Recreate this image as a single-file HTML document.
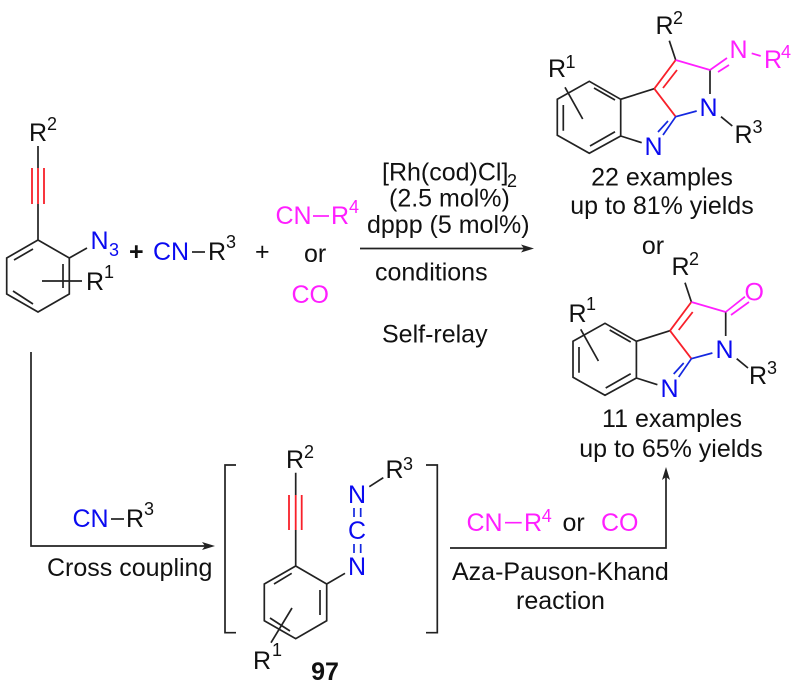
<!DOCTYPE html>
<html><head><meta charset="utf-8">
<style>
html,body{margin:0;padding:0;background:#fff}
svg{display:block}
text{font-family:"Liberation Sans",Arial,sans-serif;font-size:25px;fill:#111}
.s{font-size:18px}
.b{fill:#0a0af0}.m{fill:#ff1fff}
.c{text-anchor:middle}
.k{stroke:#222;stroke-width:1.7;fill:none}
.rd{stroke:#f8202a;stroke-width:1.8;fill:none}
.bl{stroke:#1428e0;stroke-width:1.7;fill:none}
.mg{stroke:#ff1fff;stroke-width:1.7;fill:none}
</style></head><body>
<svg width="800" height="695" viewBox="0 0 800 695" xmlns="http://www.w3.org/2000/svg">
<defs>
<g id="core">
<path class="k" d="M620.7 99.3L589.3 81.3L557.3 99.3V135.3L589.3 153.3L620.7 136V99.3L654.3 88.7M594 88L615 100M563.3 105V130.7M590 146L615 131.7M620.7 136L641.7 142.7M565 87.3L582.7 119M710 70V94M675.7 60L669.3 40.7M721 116.7L732.3 126"/>
<path class="rd" d="M654.3 88.7L675.7 60M663 88L677 70M654.3 88.7L675.7 116.7"/>
<path class="bl" d="M675.7 116.7L696.7 111M675.7 116.7L663 135M668 121L658 132"/>
<path class="mg" d="M675.7 60L710 70"/>
</g>
</defs>

<!-- left starting material -->
<path class="k" d="M38 146V168M38 204V240L69.3 258V294L38 312L6.7 294V258L38 240M14 260L33 249M63 264V288M13 291L33 304M69.3 258L87 248M42 281H82"/>
<path class="rd" d="M32 168V204M38 168V204M44 168V204"/>
<text x="29" y="141">R</text><text x="47" y="130" class="s">2</text>
<text x="90.5" y="249" class="b">N</text><text x="109" y="256" class="s b">3</text>
<text x="86" y="290">R</text><text x="104" y="278" class="s">1</text>
<text x="129" y="260" style="font-weight:bold">+</text>
<text x="153" y="260" class="b">CN</text>
<path class="k" d="M192 252H205"/>
<text x="208" y="260">R</text><text x="226" y="248" class="s">3</text>
<text x="255" y="260">+</text>
<text x="275.5" y="224" class="m">CN</text>
<path class="mg" d="M313 216H329"/>
<text x="331" y="224" class="m">R</text><text x="349" y="213" class="s m">4</text>
<text x="304" y="262">or</text>
<text x="291.5" y="303" class="m">CO</text>

<!-- top arrow -->
<path class="k" d="M360 248.5H526"/>
<path d="M534 248.5L521 244.5L524 248.5L521 252.5Z" fill="#222"/>
<text x="382" y="180.5">[Rh(cod)Cl]</text><text x="507" y="187" class="s">2</text>
<text x="389" y="206.5">(2.5 mol%)</text>
<text x="367" y="233">dppp (5 mol%)</text>
<text x="375" y="280.5">conditions</text>
<text x="382" y="342.5">Self-relay</text>

<!-- top right product -->
<use href="#core"/>
<path class="mg" d="M710 70L727 58M718 72L729 65M751.7 53.3L760.7 56"/>
<text x="729.5" y="58" class="m">N</text>
<text x="764" y="68" class="m">R</text><text x="781" y="58" class="s m">4</text>
<text x="655.5" y="34">R</text><text x="673" y="24" class="s">2</text>
<text x="699.5" y="116" class="b">N</text>
<text x="644.5" y="155" class="b">N</text>
<text x="734.5" y="143">R</text><text x="752.5" y="133" class="s">3</text>
<text x="548" y="77">R</text><text x="565.5" y="68" class="s">1</text>
<text x="662" y="185.5" class="c">22 examples</text>
<text x="662" y="214" class="c">up to 81% yields</text>
<text x="653" y="254" class="c">or</text>

<!-- bottom right product -->
<g transform="translate(15.7,242)"><use href="#core"/></g>
<path class="mg" d="M725.7 312L745 296.7M731 315L749 302"/>
<text x="744.5" y="300.7" class="m">O</text>
<text x="671.5" y="275">R</text><text x="689" y="265" class="s">2</text>
<text x="715.5" y="358" class="b">N</text>
<text x="660.5" y="397" class="b">N</text>
<text x="749" y="384">R</text><text x="767" y="374" class="s">3</text>
<text x="568.5" y="322">R</text><text x="586" y="310" class="s">1</text>
<text x="672" y="427" class="c">11 examples</text>
<text x="671" y="457" class="c">up to 65% yields</text>

<!-- bottom-left arrow -->
<path class="k" d="M31 352V546H207"/>
<path d="M215 546L202 542L205 546L202 550Z" fill="#222"/>
<text x="72.5" y="527" class="b">CN</text>
<path class="k" d="M111 519H124"/>
<text x="126" y="527">R</text><text x="144" y="515" class="s">3</text>
<text x="47" y="576">Cross coupling</text>

<!-- brackets -->
<path class="k" d="M236 465H225V632.7H236M426 465H437.3V632.7H426"/>

<!-- intermediate 97 -->
<path class="k" d="M295.7 472.7V495M295.7 530V566L326.7 584V620.7L295.7 638.7L264.3 620.7V584L295.7 566M274 584L291.7 573.3M320 590V615M270 618L290 631M292 608L271 642.7M326.7 584L345 573.3M369.3 486.7L383.3 477.7"/>
<path class="rd" d="M289 495V530M295.7 495V530M301.7 495V530"/>
<path class="bl" d="M354 508V517M360.7 508V517M354 544V553M360.7 544V553"/>
<text x="286" y="468">R</text><text x="304" y="458" class="s">2</text>
<text x="348" y="503" class="b">N</text>
<text x="348" y="539" class="b">C</text>
<text x="348" y="575" class="b">N</text>
<text x="385.5" y="478">R</text><text x="403" y="470" class="s">3</text>
<text x="253" y="669">R</text><text x="272" y="656" class="s">1</text>
<text x="325" y="680" class="c" style="font-weight:bold">97</text>

<!-- right arrow -->
<path class="k" d="M450 548H666V475"/>
<path d="M666 467L662 480L666 477L670 480Z" fill="#222"/>
<text x="466.5" y="531" class="m">CN</text>
<path class="mg" d="M505 522.7H521.7"/>
<text x="524" y="531" class="m">R</text><text x="541.7" y="522" class="s m">4</text>
<text x="562.5" y="531">or</text>
<text x="601" y="531" class="m">CO</text>
<text x="452" y="580">Aza-Pauson-Khand</text>
<text x="516" y="609">reaction</text>
</svg>
</body></html>
